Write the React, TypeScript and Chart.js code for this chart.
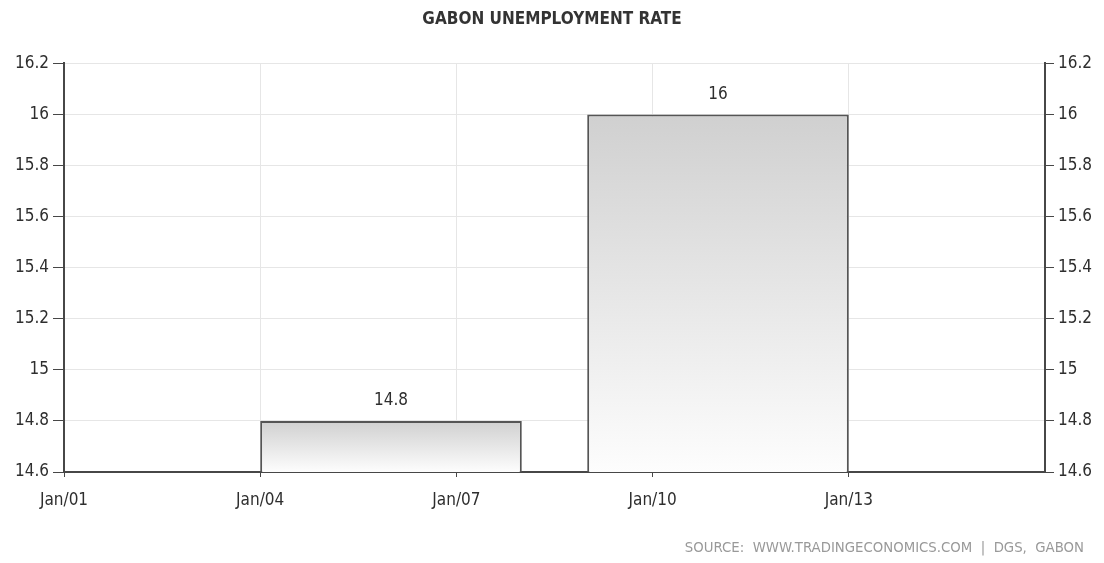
import React, { useEffect, useRef } from "react";
import { Chart, registerables } from "chart.js";

Chart.register(...registerables);

// ---- data ----
const TITLE = "GABON UNEMPLOYMENT RATE";
const SOURCE = "SOURCE:  WWW.TRADINGECONOMICS.COM  |  DGS,  GABON";
const periodStart = [2004, 2009];
const periodEnd = [2008, 2013];
const rates = [14.8, 16.0];
const yearMin = 2001;
const yearMax = 2016;
const yearStep = 3;
const rateMin = 14.6;
const rateMax = 16.2;
const rateStep = 0.2;

const FONT = "'DejaVu Sans Condensed', 'DejaVu Sans', sans-serif";
const TEXT = "#2e2e2e";
const AXIS = "#474747";
const GRID = "#e6e6e6";

const fmtYear = (v: number) => "Jan/" + String(Math.round(v) % 100).padStart(2, "0");

export default function App() {
  const ref = useRef<HTMLCanvasElement | null>(null);
  useEffect(() => {
    if (!ref.current) return;
    const points = rates.map((r, i) => ({ x: (periodStart[i] + periodEnd[i]) / 2, y: r }));
    const span = periodEnd[0] - periodStart[0];

    const valueLabels = {
      id: "valueLabels",
      afterDatasetsDraw(chart: any) {
        const ctx = chart.ctx;
        const meta = chart.getDatasetMeta(0);
        ctx.save();
        ctx.font = `17px ${FONT}`;
        ctx.fillStyle = TEXT;
        ctx.textAlign = "center";
        ctx.textBaseline = "middle";
        meta.data.forEach((el: any, i: number) => {
          ctx.fillText(String(rates[i]), el.x, el.y - 20);
        });
        ctx.restore();
      },
    };

    const sourceNote = {
      id: "sourceNote",
      afterDraw(chart: any) {
        const ctx = chart.ctx;
        ctx.save();
        ctx.font = `13.3px 'DejaVu Sans', sans-serif`;
        ctx.fillStyle = "#999999";
        ctx.textAlign = "right";
        ctx.textBaseline = "middle";
        ctx.fillText(SOURCE, chart.width - 20, chart.height - 14);
        ctx.restore();
      },
    };

    const chart = new Chart(ref.current, {
      type: "bar",
      data: {
        datasets: [
          {
            data: points as any,
            backgroundColor: (c: any) => {
              const chart = c.chart;
              if (!chart.chartArea || !c.raw) return "#dddddd";
              const ys = chart.scales.y;
              const top = ys.getPixelForValue(c.raw.y);
              const bot = ys.getPixelForValue(ys.min);
              const g = chart.ctx.createLinearGradient(0, top, 0, bot);
              g.addColorStop(0, "#d0d0d0");
              g.addColorStop(1, "#fdfdfd");
              return g;
            },
            borderColor: "#555555",
            borderWidth: 2,
            borderSkipped: "bottom",
            categoryPercentage: 1,
            barPercentage: span / yearStep,
          },
        ],
      },
      options: {
        animation: false,
        responsive: false,
        maintainAspectRatio: false,
        layout: { padding: { top: 0, left: 0, right: 0, bottom: 0 } },
        plugins: {
          legend: { display: false },
          tooltip: { enabled: false },
          title: {
            display: true,
            text: TITLE,
            color: "#333",
            font: { family: FONT, size: 17, weight: "bold" },
            padding: { top: 9, bottom: 34 },
          },
        },
        scales: {
          x: {
            type: "linear",
            min: yearMin,
            max: yearMax,
            offset: false,
            afterFit: (s: any) => {
              s.height = 563 - 472;
            },
            ticks: {
              stepSize: yearStep,
              color: TEXT,
              font: { family: FONT, size: 17 },
              padding: 13,
              maxRotation: 0,
              callback: (v: any) => (v >= yearMax ? null : fmtYear(Number(v))),
            },
            grid: { offset: false, color: GRID, tickColor: AXIS, tickLength: 5, lineWidth: 1 },
            border: { display: true, color: AXIS, width: 2 },
          },
          y: {
            position: "left",
            min: rateMin,
            max: rateMax,
            afterFit: (s: any) => {
              s.width = 64;
            },
            ticks: {
              stepSize: rateStep,
              color: TEXT,
              font: { family: FONT, size: 17 },
              padding: 4,
              callback: (v: any) => String(Math.round(Number(v) * 10) / 10),
            },
            grid: { color: GRID, tickColor: AXIS, tickLength: 11, lineWidth: 1 },
            border: { display: true, color: AXIS, width: 2 },
          },
          y2: {
            position: "right",
            min: rateMin,
            max: rateMax,
            afterFit: (s: any) => {
              s.width = 1104 - 1045;
            },
            ticks: {
              stepSize: rateStep,
              color: TEXT,
              font: { family: FONT, size: 17 },
              padding: 4,
              callback: (v: any) => String(Math.round(Number(v) * 10) / 10),
            },
            grid: { drawOnChartArea: false, tickColor: AXIS, tickLength: 9 },
            border: { display: true, color: AXIS, width: 2 },
          },
        },
      },
      plugins: [valueLabels, sourceNote],
    });
    return () => chart.destroy();
  }, []);

  return (
    <div style={{ position: "fixed", left: 0, top: 0, width: 1104, height: 563, background: "#fff" }}>
      <canvas ref={ref} width={1104} height={563} style={{ width: 1104, height: 563 }} />
    </div>
  );
}
